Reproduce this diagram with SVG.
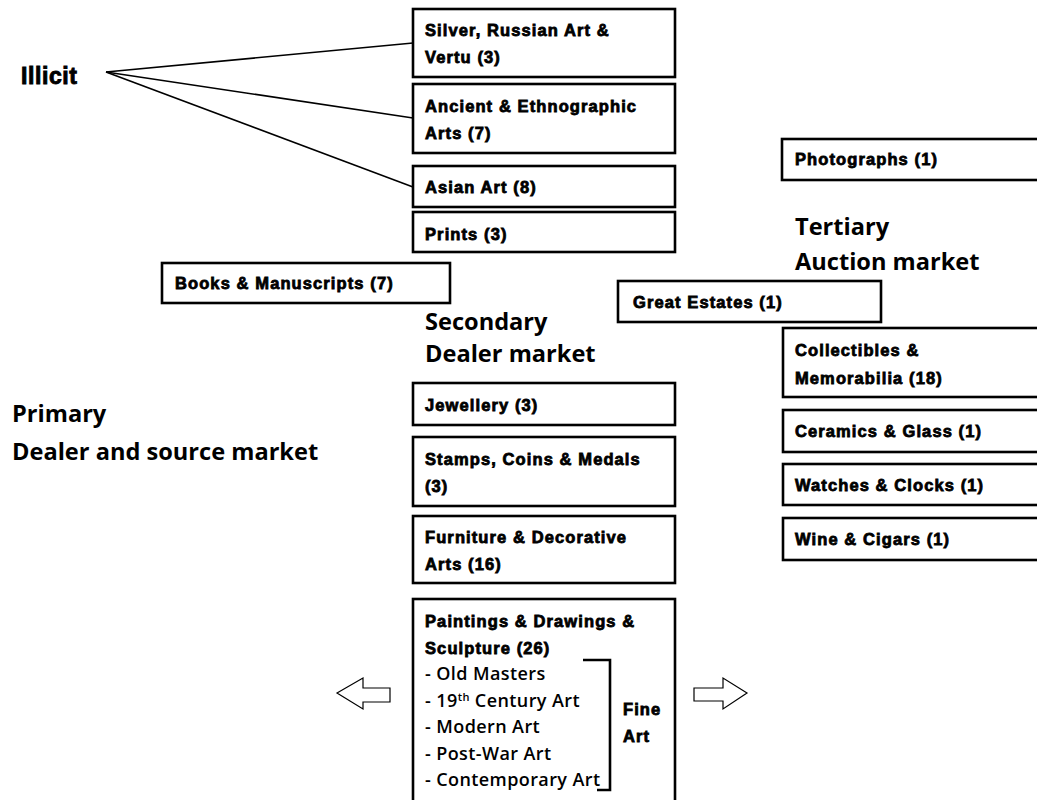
<svg xmlns="http://www.w3.org/2000/svg" width="1037" height="800" viewBox="0 0 1037 800">
  <style>
    .box { fill: #fff; stroke: #000; stroke-width: 2.6; }
    .lbl { font-family: "Liberation Sans", Arial, sans-serif; font-weight: bold; font-size: 16.5px; letter-spacing: 1.1px; fill: #000; stroke: #000; stroke-width: 0.8; }
    .sub { font-family: "Open Sans", "Liberation Sans", sans-serif; font-weight: 600; font-size: 18px; letter-spacing: 0.4px; fill: #000; }
    .head { font-family: "Open Sans", "Liberation Sans", sans-serif; font-weight: bold; font-size: 23.6px; fill: #000; }
    .link { fill: none; stroke: #000; stroke-width: 1.6; }
    .arrow { fill: #fff; stroke: #000; stroke-width: 1.2; }
  </style>

  <rect width="1037" height="800" fill="#fff"/>

  <!-- section headings -->
  <g id="illicit"><text x="21" y="84" style="font-family:'Liberation Sans',Arial,sans-serif;font-weight:bold;font-size:23px;letter-spacing:0.6px;stroke:#000;stroke-width:0.9">Illicit</text></g>
  <g id="primary">
    <text class="head" x="12" y="422">Primary</text>
    <text class="head" x="12" y="460">Dealer and source market</text>
  </g>
  <g id="secondary">
    <text class="head" x="425" y="330">Secondary</text>
    <text class="head" x="425" y="362">Dealer market</text>
  </g>
  <g id="tertiary">
    <text class="head" x="795" y="235">Tertiary</text>
    <text class="head" x="795" y="270">Auction market</text>
  </g>

  <!-- connectors from Illicit -->
  <g id="connectors">
    <line class="link" x1="106" y1="72" x2="413" y2="43"/>
    <line class="link" x1="106" y1="72" x2="413" y2="118"/>
    <line class="link" x1="106" y1="72" x2="413" y2="187"/>
  </g>

  <!-- upper column -->
  <g id="silver">
    <rect class="box" x="413" y="9" width="262" height="68"/>
    <text class="lbl" x="425" y="36">Silver, Russian Art &amp;</text>
    <text class="lbl" x="425" y="63">Vertu (3)</text>
  </g>
  <g id="ancient">
    <rect class="box" x="413" y="84" width="262" height="69"/>
    <text class="lbl" x="425" y="112">Ancient &amp; Ethnographic</text>
    <text class="lbl" x="425" y="139">Arts (7)</text>
  </g>
  <g id="asian">
    <rect class="box" x="413" y="166" width="262" height="41"/>
    <text class="lbl" x="425" y="193">Asian Art (8)</text>
  </g>
  <g id="prints">
    <rect class="box" x="413" y="212" width="262" height="40"/>
    <text class="lbl" x="425" y="240">Prints (3)</text>
  </g>
  <g id="books">
    <rect class="box" x="162" y="263" width="288" height="40"/>
    <text class="lbl" x="175" y="289">Books &amp; Manuscripts (7)</text>
  </g>
  <g id="estates">
    <rect class="box" x="618" y="281" width="263" height="41"/>
    <text class="lbl" x="633" y="308">Great Estates (1)</text>
  </g>

  <!-- right column -->
  <g id="photographs">
    <rect class="box" x="782" y="139" width="270" height="41"/>
    <text class="lbl" x="795" y="165">Photographs (1)</text>
  </g>
  <g id="collectibles">
    <rect class="box" x="783" y="328" width="270" height="69"/>
    <text class="lbl" x="795" y="356">Collectibles &amp;</text>
    <text class="lbl" x="795" y="384">Memorabilia (18)</text>
  </g>
  <g id="ceramics">
    <rect class="box" x="783" y="410" width="270" height="42"/>
    <text class="lbl" x="795" y="437">Ceramics &amp; Glass (1)</text>
  </g>
  <g id="watches">
    <rect class="box" x="783" y="464" width="270" height="41"/>
    <text class="lbl" x="795" y="491">Watches &amp; Clocks (1)</text>
  </g>
  <g id="wine">
    <rect class="box" x="783" y="518" width="270" height="42"/>
    <text class="lbl" x="795" y="545">Wine &amp; Cigars (1)</text>
  </g>

  <!-- lower middle column -->
  <g id="jewellery">
    <rect class="box" x="413" y="383" width="262" height="42"/>
    <text class="lbl" x="425" y="411">Jewellery (3)</text>
  </g>
  <g id="stamps">
    <rect class="box" x="413" y="437" width="262" height="69"/>
    <text class="lbl" x="425" y="465">Stamps, Coins &amp; Medals</text>
    <text class="lbl" x="425" y="492">(3)</text>
  </g>
  <g id="furniture">
    <rect class="box" x="413" y="516" width="262" height="67"/>
    <text class="lbl" x="425" y="543">Furniture &amp; Decorative</text>
    <text class="lbl" x="425" y="570">Arts (16)</text>
  </g>
  <g id="paintings">
    <rect class="box" x="413" y="599" width="262" height="220"/>
    <text class="lbl" x="425" y="627">Paintings &amp; Drawings &amp;</text>
    <text class="lbl" x="425" y="654">Sculpture (26)</text>
    <text class="sub" x="425" y="680">- Old Masters</text>
    <text class="sub" x="425" y="707">- 19<tspan font-size="11" dy="-6">th</tspan><tspan dy="6"> Century Art</tspan></text>
    <text class="sub" x="425" y="733">- Modern Art</text>
    <text class="sub" x="425" y="760">- Post-War Art</text>
    <text class="sub" x="425" y="786">- Contemporary Art</text>
    <polyline fill="none" stroke="#000" stroke-width="2.6" points="583,660 610,660 610,790 597,790"/>
    <text class="lbl" x="623" y="715">Fine</text>
    <text class="lbl" x="623" y="742">Art</text>
  </g>

  <!-- block arrows -->
  <g id="arrow-left">
    <polygon class="arrow" points="337,693 363,678 363,688 390,688 390,702 363,702 363,709"/>
  </g>
  <g id="arrow-right">
    <polygon class="arrow" points="747,693 723,678 723,688 694,688 694,701 723,701 723,709"/>
  </g>
</svg>
